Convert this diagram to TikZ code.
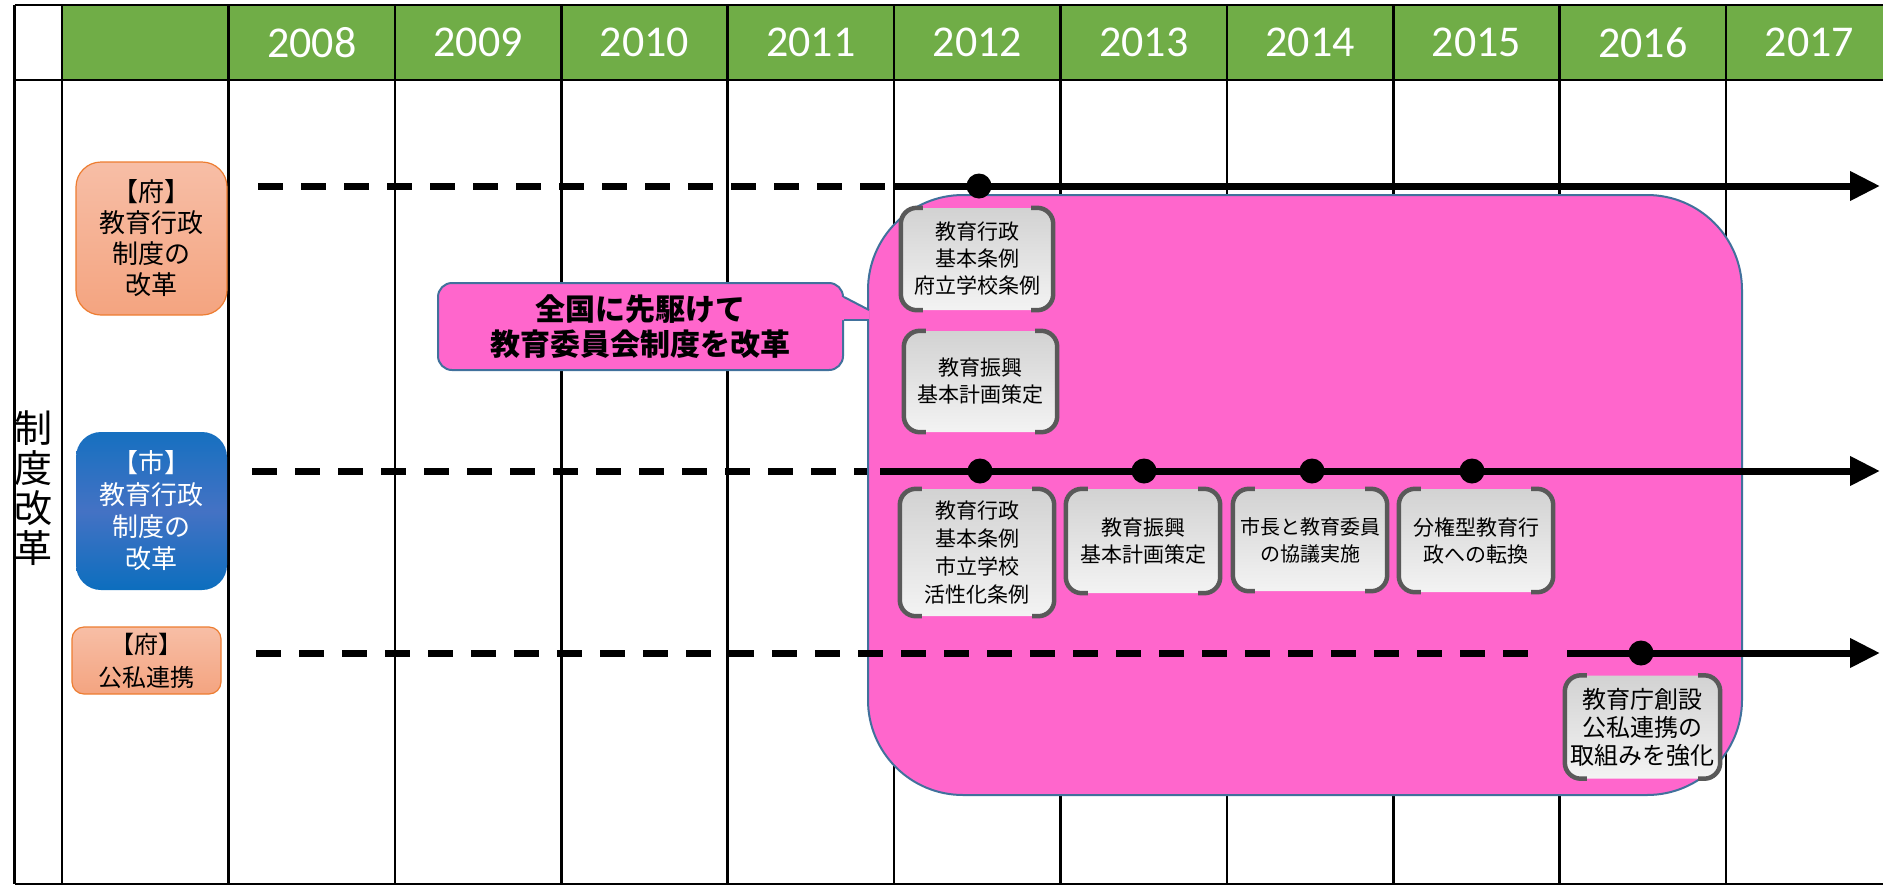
\documentclass[tikz,border=0pt]{standalone}
\usepackage{fontspec}
\setmainfont{Carlito}
\newfontfamily\jp{Noto Sans CJK JP}
\usetikzlibrary{arrows.meta,calc}
\definecolor{hdrgreen}{RGB}{112,173,71}
\definecolor{pinkfill}{RGB}{255,102,204}
\definecolor{pinkedge}{RGB}{65,113,156}
\definecolor{orTop}{RGB}{247,190,166}
\definecolor{orBot}{RGB}{244,164,128}
\definecolor{orEdge}{RGB}{237,125,49}
\definecolor{blTop}{RGB}{22,112,192}
\definecolor{blMid}{RGB}{68,114,196}
\definecolor{blBot}{RGB}{12,110,190}
\definecolor{gyTop}{RGB}{210,210,210}
\definecolor{gyBot}{RGB}{243,243,243}
\definecolor{brk}{RGB}{89,89,89}
\begin{document}
\begin{tikzpicture}[x=1pt,y=-1pt,
  gridline/.style={line width=2.5pt,black},
  yearlbl/.style={text=white,font=\fontsize{44}{44}\selectfont,inner sep=0},
  orbox/.style={rectangle,rounded corners=25pt,top color=orTop,bottom color=orBot,draw=orEdge,line width=1.2pt,align=center,inner sep=0,font=\jp\fontsize{26}{31}\selectfont},
  blbox/.style={rectangle,rounded corners=25pt,top color=blTop,bottom color=blBot,middle color=blMid,align=center,inner sep=0,text=white,font=\jp\fontsize{26}{32}\selectfont},
  bigbox/.style={rectangle,rounded corners=95pt,fill=pinkfill,draw=pinkedge,line width=2pt,inner sep=0},
  callout/.style={rectangle,rounded corners=14pt,fill=pinkfill,draw=pinkedge,line width=2pt,inner sep=0,align=center,font=\jp\bfseries\fontsize{30}{35}\selectfont},
  evt/.style={rectangle,rounded corners=10pt,top color=gyTop,bottom color=gyBot,inner sep=0,align=center,text=black,font=\jp\fontsize{21}{27}\selectfont},
  bracket/.style={draw=brk,line width=4.5pt,rounded corners=16pt},
  dashline/.style={line width=7pt,dash pattern=on 25pt off 18pt},
  solidline/.style={line width=7pt,-{Triangle[length=30pt,width=28pt]}},
  dot/.style={circle,fill=black,minimum size=25pt,inner sep=0}
]
\useasboundingbox (0,0) rectangle (1883,887);
% header
\fill[hdrgreen] (62,5) rectangle (1883,80);
\foreach \i/\yr in {0/2008,1/2009,2/2010,3/2011,4/2012,5/2013,6/2014,7/2015,8/2016,9/2017}{
  \node[yearlbl] (y\yr) at ({228.5+166.4*\i+83.2},42.5) {\yr};
}
% grid
\draw[gridline] (14.5,5) -- (1883,5);
\draw[gridline] (14.5,80) -- (1883,80);
\draw[gridline] (14.5,884) -- (1883,884);
\draw[gridline] (14.5,5) -- (14.5,884);
\draw[gridline] (62,5) -- (62,884);
\foreach \i in {0,...,9}{
  \draw[gridline] ({228.5+166.4*\i},5) -- ({228.5+166.4*\i},884);
}
% side title
\node[font=\jp\fontsize{38}{40}\selectfont,align=center,inner sep=0] (side) at (33,488) {制\\度\\改\\革};
% row labels
\node[orbox,minimum width=151pt,minimum height=153pt] (fu1) at (151.5,238.5) {【府】\\教育行政\\制度の\\改革};
\node[blbox,minimum width=151pt,minimum height=158pt] (shi) at (151.5,511) {【市】\\教育行政\\制度の\\改革};
\node[orbox,rounded corners=12pt,minimum width=149pt,minimum height=67pt,font=\jp\fontsize{24}{33}\selectfont] (fu2) at (146.5,660.5) {【府】\\公私連携};
% line 2 dashed part (behind pink box)
\coordinate (a2) at (252,471);
\coordinate (b2) at (880,471);
\coordinate (c2) at (1880,471);
\draw[dashline] (a2) -- (b2);
% big pink box
\node[bigbox,minimum width=874pt,minimum height=600pt] (pinkbox) at (1305,495) {};
% callout
\node[callout,minimum width=405pt,minimum height=87pt] (cal) at (640.5,326.5) {全国に先駆けて\\教育委員会制度を改革};
\coordinate (tt1) at (869,310);
\coordinate (tt2) at (869,320);
\fill[pinkfill] ($(cal.east)+(-2,-29.5)$) -- (tt1) -- (tt2) -- ($(cal.east)+(-2,-6.5)$) -- cycle;
\draw[pinkedge,line width=2pt] ($(cal.east)+(0,-29.5)$) -- (tt1);
\draw[pinkedge,line width=2pt] ($(cal.east)+(0,-6.5)$) -- (tt2);
% line 1
\coordinate (a1) at (258,186);
\coordinate (b1) at (893,186);
\coordinate (c1) at (1880,186);
\draw[dashline] (a1) -- (b1);
\draw[solidline] (b1) -- (c1);
\node[dot] (d11) at (979,186) {};
% line 2 solid
\draw[solidline] (b2) -- (c2);
\node[dot] (d21) at (980,471) {};
\node[dot] (d22) at (1144,471) {};
\node[dot] (d23) at (1312,471) {};
\node[dot] (d24) at (1472,471) {};
% line 3
\coordinate (a3) at (256,653);
\coordinate (b3) at (1535,653);
\coordinate (m3) at (1567,653);
\coordinate (c3) at (1880,653);
\draw[dashline] (a3) -- (b3);
\draw[solidline] (m3) -- (c3);
\node[dot] (d31) at (1641,653) {};
% event boxes
\node[evt,minimum width=152pt,minimum height=102pt] (e1) at (977,259) {教育行政\\基本条例\\府立学校条例};
\node[evt,minimum width=153pt,minimum height=101pt] (e2) at (980.5,381.5) {教育振興\\基本計画策定};
\node[evt,minimum width=154pt,minimum height=127pt,font=\jp\fontsize{21}{28}\selectfont] (e3) at (977,552.5) {教育行政\\基本条例\\市立学校\\活性化条例};
\node[evt,minimum width=154pt,minimum height=104pt] (e4) at (1143,541) {教育振興\\基本計画策定};
\node[evt,minimum width=154pt,minimum height=102pt,font=\jp\fontsize{20}{27}\selectfont] (e5) at (1310,540) {市長と教育委員\\の協議実施};
\node[evt,minimum width=154pt,minimum height=103pt] (e6) at (1476,540.5) {分権型教育行\\政への転換};
\node[evt,minimum width=155pt,minimum height=103pt,font=\jp\fontsize{24}{28}\selectfont] (e7) at (1642.5,727) {教育庁創設\\公私連携の\\取組みを強化};
\foreach \n in {e1,e2,e3,e4,e5,e6,e7}{
  \draw[bracket] ($(\n.north west)+(22,0)$) -- (\n.north west) -- (\n.south west) -- ($(\n.south west)+(22,0)$);
  \draw[bracket] ($(\n.north east)+(-22,0)$) -- (\n.north east) -- (\n.south east) -- ($(\n.south east)+(-22,0)$);
}
\end{tikzpicture}
\end{document}
